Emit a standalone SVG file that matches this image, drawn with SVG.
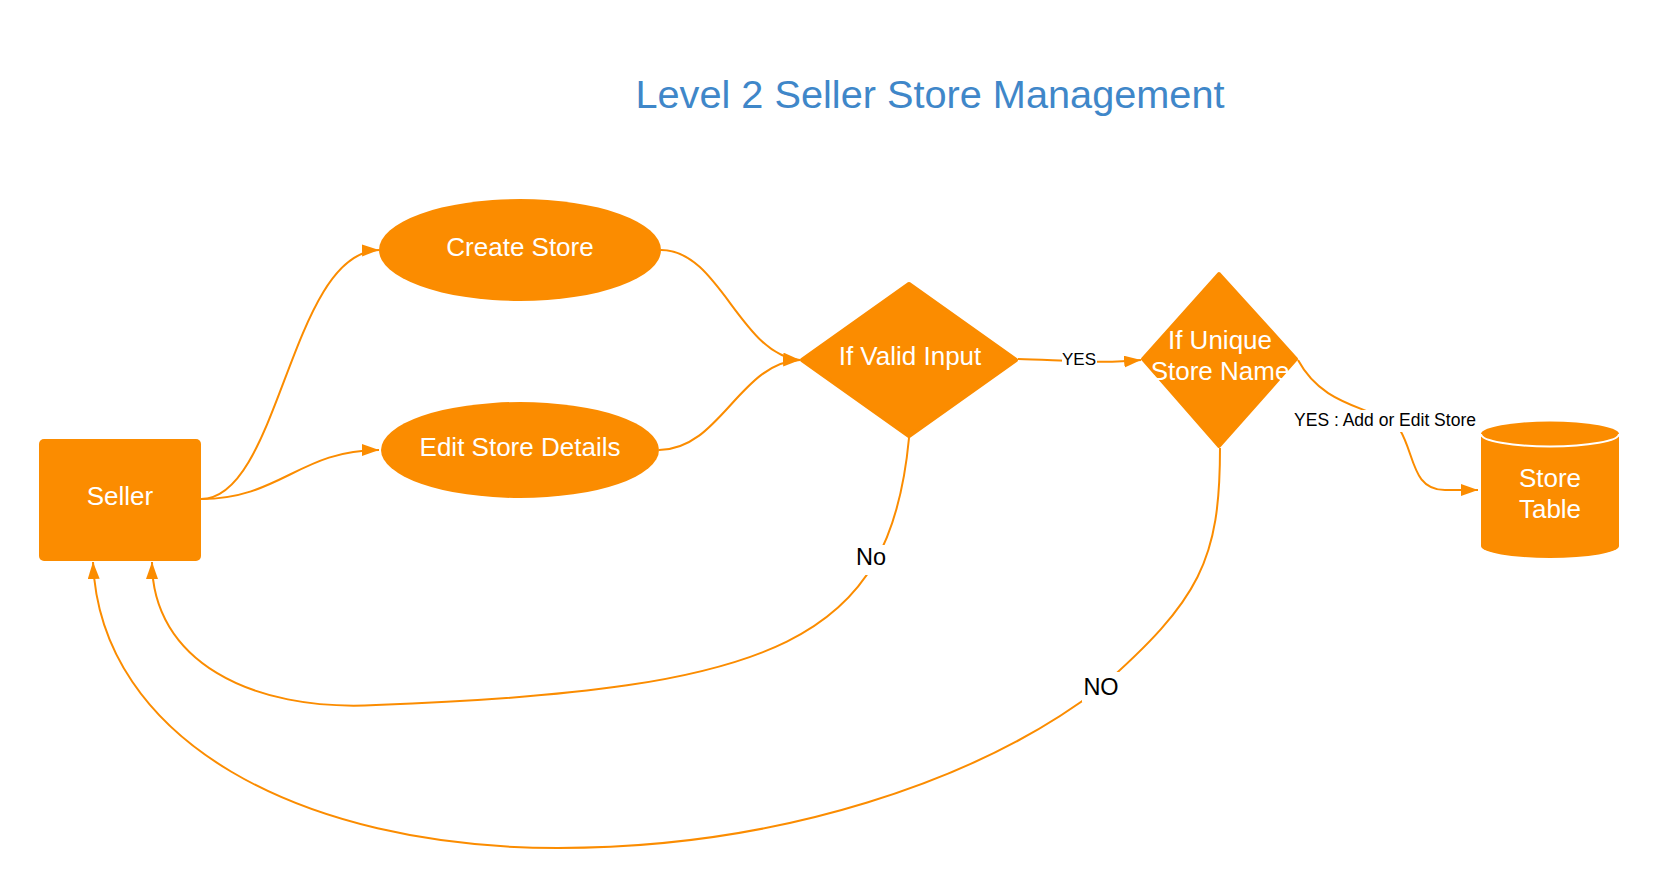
<svg xmlns="http://www.w3.org/2000/svg" width="1660" height="891" viewBox="0 0 1660 891">
  <style>
    .shape { fill: #fb8c00; }
    .ntext { fill: #ffffff; font-family: "Liberation Sans", Arial, sans-serif; font-size: 26px; text-anchor: middle; }
    .conn { fill: none; stroke: #fb8c00; stroke-width: 2; }
    .lbl { fill: #000000; font-family: "Liberation Sans", Arial, sans-serif; text-anchor: middle; }
    .lblbg { fill: #ffffff; }
  </style>
  <defs>
    <marker id="arrow" markerUnits="userSpaceOnUse" markerWidth="18" markerHeight="13" refX="17" refY="6" orient="auto">
      <path d="M0,0 L17,6 L0,12 z" fill="#fb8c00"/>
    </marker>
  </defs>
  <rect width="1660" height="891" fill="#ffffff"/>
  <text x="930" y="108" fill="#3f87c9" font-family="Liberation Sans, Arial, sans-serif" font-size="39.7" text-anchor="middle">Level 2 Seller Store Management</text>

  <g id="connectors">
    <path class="conn" d="M201,499 C280,499 290,252 379,250" marker-end="url(#arrow)"/>
    <path class="conn" d="M201,499 C280,499 300,450 379,450" marker-end="url(#arrow)"/>
    <path class="conn" d="M661,250 C720,250 740,355 800,360" marker-end="url(#arrow)"/>
    <path class="conn" d="M659,450 C720,450 740,362 800,360" marker-end="url(#arrow)"/>
    <path class="conn" d="M1018,359 C1060,360 1100,364 1141,360" marker-end="url(#arrow)"/>
    <path class="conn" d="M1298,360 C1325,410 1375,405 1400,430 C1415,455 1412,490 1445,490 L1478,490" marker-end="url(#arrow)"/>
    <path class="conn" d="M909,438 C890,640 780,690 376,705 C250,712 152,660 152,562" marker-end="url(#arrow)"/>
    <path class="conn" d="M1220,448 C1220,560 1200,600 1100,688 C980,780 780,848 558,848 C300,848 100,740 93,562" marker-end="url(#arrow)"/>
    <g id="labels">
      <rect class="lblbg" x="1062" y="350" width="35" height="20"/>
      <text class="lbl" x="1079" y="365" font-size="17">YES</text>
      <rect class="lblbg" x="1292" y="410" width="186" height="22"/>
      <text class="lbl" x="1385" y="426" font-size="17.5">YES : Add or Edit Store</text>
      <rect class="lblbg" x="855" y="545" width="32" height="30"/>
      <text class="lbl" x="871" y="565" font-size="23.5">No</text>
      <rect class="lblbg" x="1082" y="672" width="38" height="30"/>
      <text class="lbl" x="1101" y="695" font-size="23.5">NO</text>
    </g>
  </g>

  <g id="seller">
    <rect class="shape" x="39" y="439" width="162" height="122" rx="5"/>
    <text class="ntext" x="120" y="505">Seller</text>
  </g>
  <g id="create-store">
    <ellipse class="shape" cx="520" cy="250" rx="141" ry="51"/>
    <text class="ntext" x="520" y="256">Create Store</text>
  </g>
  <g id="edit-store">
    <ellipse class="shape" cx="520" cy="450" rx="139" ry="48"/>
    <text class="ntext" x="520" y="456">Edit Store Details</text>
  </g>
  <g id="valid-input">
    <polygon class="shape" points="909,284 1016,360 909,436 802,360" stroke="#fb8c00" stroke-width="4" stroke-linejoin="round"/>
    <text class="ntext" x="910" y="365">If Valid Input</text>
  </g>
  <g id="unique-name">
    <polygon class="shape" points="1219,274 1296,359 1219,446 1143,359" stroke="#fb8c00" stroke-width="4" stroke-linejoin="round"/>
    <text class="ntext" x="1220" y="349">If Unique</text>
    <text class="ntext" x="1220" y="380">Store Name</text>
  </g>
  <g id="store-table">
    <path class="shape" d="M1481,434 A69,12.5 0 0 1 1619,434 L1619,546 A69,12 0 0 1 1481,546 Z"/>
    <path d="M1481,434 A69,12.5 0 0 0 1619,434" fill="none" stroke="#ffffff" stroke-width="2"/>
    <text class="ntext" x="1550" y="487">Store</text>
    <text class="ntext" x="1550" y="518">Table</text>
  </g>
</svg>
